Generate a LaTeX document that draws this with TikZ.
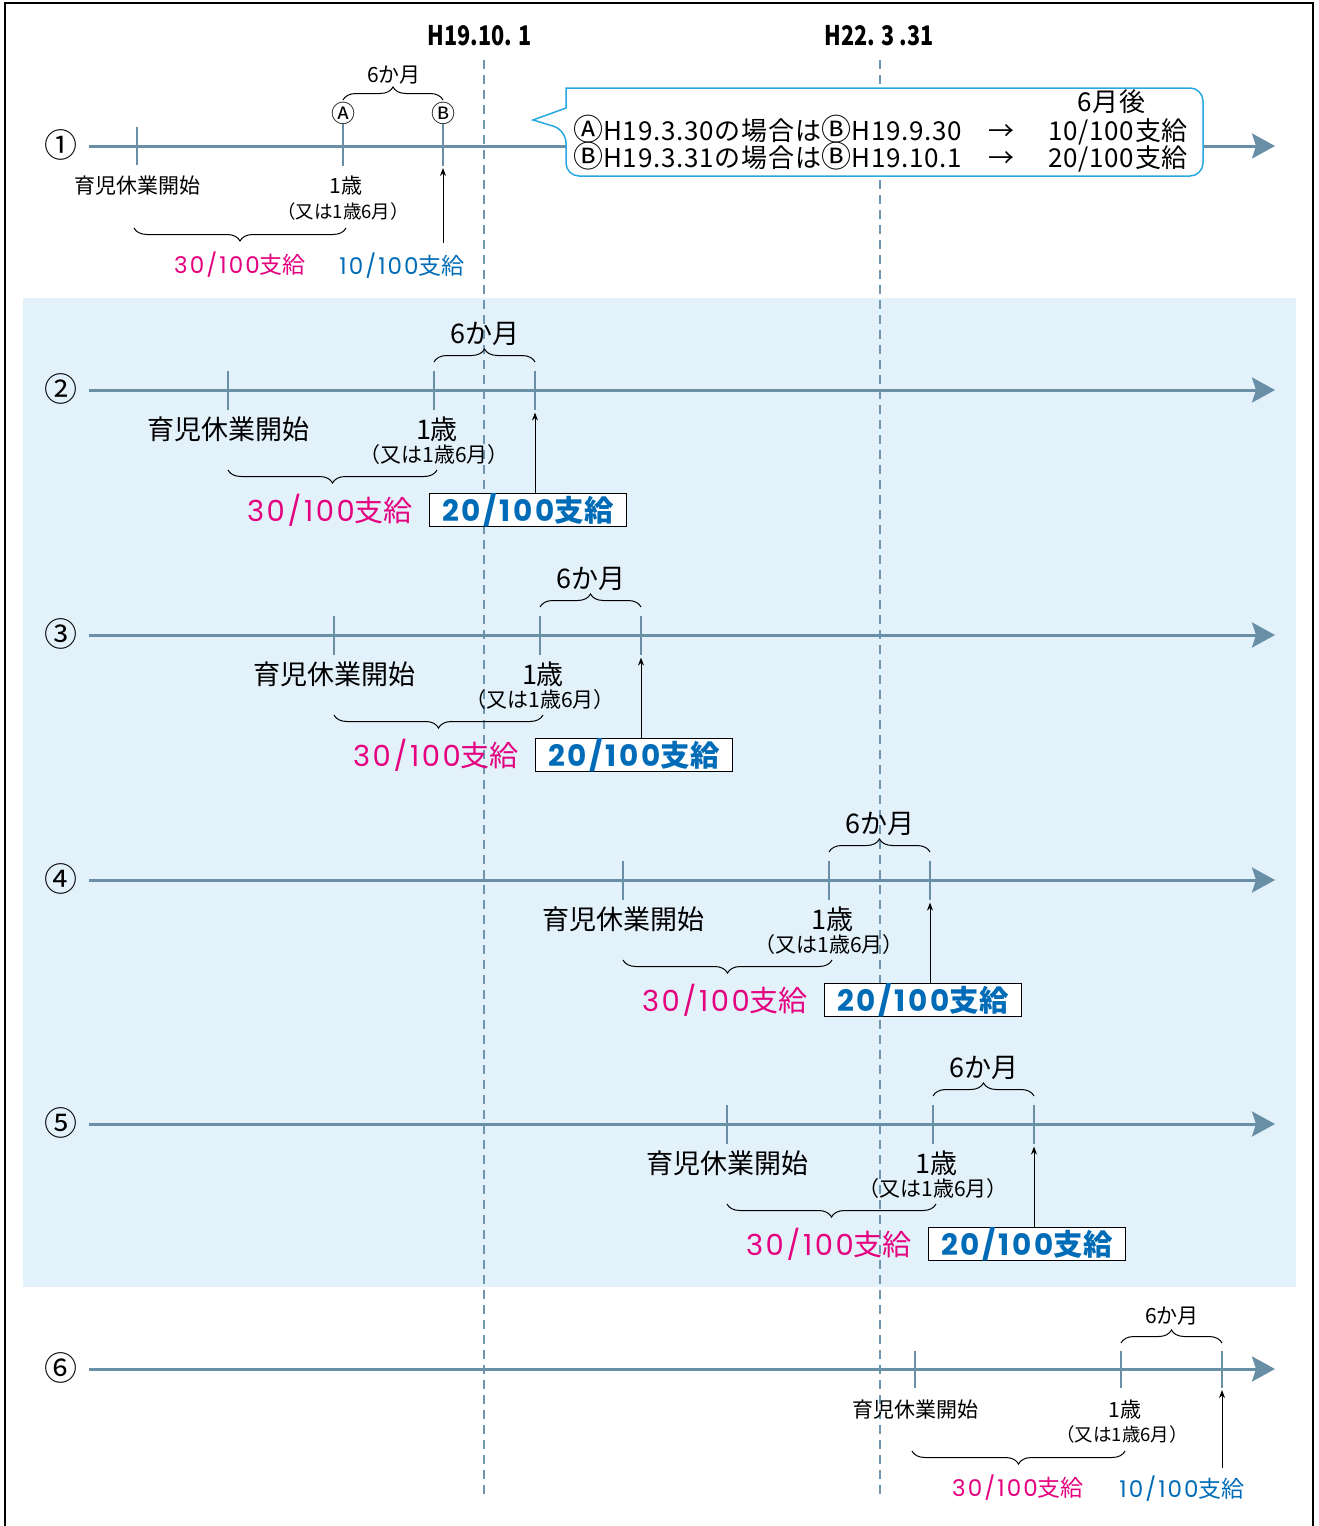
\documentclass[tikz,border=0pt]{standalone}
\usepackage{fontspec}
\setmainfont{Noto Sans CJK JP}
\newfontfamily\hdfont[FakeStretch=0.8]{Noto Sans CJK JP}
\newfontfamily\callfont[LetterSpace=3]{Noto Sans CJK JP}
\newfontfamily\numfont[LetterSpace=9]{Poppins}
\newcommand{\circA}{{\fontsize{24}{24}\selectfont Ⓐ}}
\newcommand{\circB}{{\fontsize{24}{24}\selectfont Ⓑ}}
\newcommand{\bigA}{{\fontsize{30}{30}\selectfont Ⓐ}}
\newcommand{\bigB}{{\fontsize{30}{30}\selectfont Ⓑ}}
\usetikzlibrary{arrows.meta,decorations.pathreplacing}
\definecolor{bandblue}{RGB}{227,241,251}
\definecolor{axisblue}{RGB}{104,143,165}
\definecolor{dashblue}{RGB}{112,150,175}
\definecolor{paypink}{RGB}{228,0,127}
\definecolor{payblue}{RGB}{0,108,183}
\definecolor{callblue}{RGB}{40,168,224}
\tikzstyle{axis} = [draw=axisblue, line width=3pt, -{Stealth[length=23pt,width=25pt,inset=4pt]}]
\tikzstyle{tick} = [draw=axisblue, line width=1.5pt]
\tikzstyle{dateline} = [draw=dashblue, line width=1.5pt, dash pattern=on 9pt off 6pt]
\tikzstyle{upline} = [draw=black, line width=1pt, -{Stealth[length=8pt,width=6pt]}]
\tikzstyle{bracetop} = [draw=black, line width=1pt, decorate, decoration={brace, amplitude=13pt}]
\tikzstyle{bracebot} = [draw=black, line width=1pt, decorate, decoration={brace, mirror, amplitude=13pt}]
\tikzstyle{rowno} = [inner sep=0pt, font=\fontsize{33}{35}\selectfont]
\tikzstyle{datelbl} = [inner sep=0pt, font=\hdfont\bfseries\fontsize{27}{30}\selectfont]
\tikzstyle{pointlbl} = [inner sep=0pt]
\tikzstyle{smalltxt} = [inner sep=0pt, font=\fontsize{21}{24}\selectfont]
\tikzstyle{smallsub} = [inner sep=0pt, font=\fontsize{18.5}{21}\selectfont]
\tikzstyle{smallpay} = [inner sep=0pt, font=\fontsize{23}{26}\selectfont]
\tikzstyle{bigtxt} = [inner sep=0pt, font=\fontsize{27}{30}\selectfont]
\tikzstyle{bigsub} = [inner sep=0pt, font=\fontsize{21}{24}\selectfont]
\tikzstyle{bigpay} = [inner sep=0pt, text=paypink, font=\fontsize{29}{32}\selectfont]
\tikzstyle{paybox} = [draw=black, fill=white, line width=1.3pt, minimum width=197pt, minimum height=33pt, inner sep=0pt, text=payblue, font=\bfseries\fontsize{29.5}{32}\selectfont]
\tikzstyle{calltxt} = [inner sep=0pt, font=\callfont\fontsize{26}{29}\selectfont]

\begin{document}
\begin{tikzpicture}[x=1pt, y=-1pt]
    \useasboundingbox (0,0) rectangle (1318,1526);
    \fill[bandblue] (23,298) rectangle (1296,1287);
    \draw[line width=1.3pt] (5,1526) -- (5,3) -- (1313,3) -- (1313,1526);

    % dates
    \node[datelbl] (h1) at (480,36) {H19.10. 1};
    \node[datelbl] (h2) at (879,36) {H22. 3 .31};
    \coordinate (d1top) at (484,60); \coordinate (d1bot) at (484,1495);
    \coordinate (d2top) at (880,60); \coordinate (d2bot) at (880,1495);
    \draw[dateline] (d1top) -- (d1bot);
    \draw[dateline] (d2top) -- (d2bot);

    % row 1
    \node[rowno] (no1) at (61,145) {①};
    \coordinate (o1) at (89,146); \coordinate (e1) at (1275,146);
    \coordinate (s1) at (137,146); \coordinate (a1) at (343,146); \coordinate (b1) at (443,146);
    \draw[axis] (o1) -- (e1);
    \draw[tick] (s1) ++(0,-19) -- ++(0,38);
    \draw[tick] (a1) ++(0,-22) -- ++(0,42);
    \draw[tick] (b1) ++(0,-22) -- ++(0,42);
    \node[pointlbl] (ptA) at (343,113) {\circA};
    \node[pointlbl] (ptB) at (443,113) {\circB};
    \draw[bracetop] (343,100) -- (443,100);
    \node[smalltxt] (six1) at (394,75) {6か月};
    \node[smalltxt] (start1) at (137,186) {育児休業開始};
    \node[smalltxt] (age1) at (346,186) {1歳};
    \node[smallsub] (alt1) at (343,211) {（又は1歳6月）};
    \draw[bracebot] (134,228) -- (346,228);
    \node[smallpay, text=paypink] (p30_1) at (240,265) {{\numfont 30/100}支給};
    \node[smallpay, text=payblue] (p10_1) at (402,266) {{\numfont 10/100}支給};
    \draw[upline, shorten <=10pt] (p10_1.north -| b1) -- ++(0,-85);

    % callout
    \draw[callblue, fill=white, line width=1.5pt] (533,120) -- (566,108) -- (566,88) [rounded corners=13pt] -- (1203,88) -- (1203,176) -- (566,176) -- (566,130) [sharp corners] -- cycle;
    \node[calltxt, anchor=base] (after6) at (1111,111) {6月後};
    \node[calltxt, anchor=base west] (caseA) at (573,140) {\bigA H19.3.30の場合は\bigB H19.9.30};
    \node[calltxt, anchor=base] (arrA) at (1001,140) {→};
    \node[calltxt, anchor=base east] (payA) at (1188,140) {10/100支給};
    \node[calltxt, anchor=base west] (caseB) at (573,167) {\bigB H19.3.31の場合は\bigB H19.10.1};
    \node[calltxt, anchor=base] (arrB) at (1001,167) {→};
    \node[calltxt, anchor=base east] (payB) at (1188,167) {20/100支給};

    % row 2
    \node[rowno] (no2) at (61,389) {②};
    \coordinate (o2) at (89,390); \coordinate (e2) at (1275,390);
    \coordinate (s2) at (228,390); \coordinate (a2) at (434,390); \coordinate (b2) at (535,390);
    \draw[axis] (o2) -- (e2);
    \draw[tick] (s2) ++(0,-19) -- ++(0,39);
    \draw[tick] (a2) ++(0,-19) -- ++(0,39);
    \draw[tick] (b2) ++(0,-19) -- ++(0,39);
    \draw[bracetop] (434,362) -- (535,362);
    \node[bigtxt] (six2) at (485,334) {6か月};
    \node[bigtxt] (start2) at (228,429) {育児休業開始};
    \node[bigtxt] (age2) at (437,429) {1歳};
    \node[bigsub] (alt2) at (434,455) {（又は1歳6月）};
    \draw[bracebot] (228,470) -- (437,470);
    \node[bigpay] (p30_2) at (330,510) {{\numfont 30/100}支給};
    \node[paybox] (p20_2) at (528,510) {{\numfont\bfseries 20/100}支給};
    \draw[upline] (p20_2.north -| b2) -- ++(0,-80);

    % row 3
    \node[rowno] (no3) at (61,634) {③};
    \begin{scope}[shift={(106,245)}]
    \coordinate (o3) at (-17,390); \coordinate (e3) at (1169,390);
    \coordinate (s3) at (228,390); \coordinate (a3) at (434,390); \coordinate (b3) at (535,390);
    \draw[axis] (o3) -- (e3);
    \draw[tick] (s3) ++(0,-19) -- ++(0,39);
    \draw[tick] (a3) ++(0,-19) -- ++(0,39);
    \draw[tick] (b3) ++(0,-19) -- ++(0,39);
    \draw[bracetop] (434,362) -- (535,362);
    \node[bigtxt] (six3) at (485,334) {6か月};
    \node[bigtxt] (start3) at (228,429) {育児休業開始};
    \node[bigtxt] (age3) at (437,429) {1歳};
    \node[bigsub] (alt3) at (434,455) {（又は1歳6月）};
    \draw[bracebot] (228,470) -- (437,470);
    \node[bigpay] (p30_3) at (330,510) {{\numfont 30/100}支給};
    \node[paybox] (p20_3) at (528,510) {{\numfont\bfseries 20/100}支給};
    \draw[upline] (p20_3.north -| b3) -- ++(0,-80);
    \end{scope}

    % row 4
    \node[rowno] (no4) at (61,879) {④};
    \begin{scope}[shift={(395,490)}]
    \coordinate (o4) at (-306,390); \coordinate (e4) at (880,390);
    \coordinate (s4) at (228,390); \coordinate (a4) at (434,390); \coordinate (b4) at (535,390);
    \draw[axis] (o4) -- (e4);
    \draw[tick] (s4) ++(0,-19) -- ++(0,39);
    \draw[tick] (a4) ++(0,-19) -- ++(0,39);
    \draw[tick] (b4) ++(0,-19) -- ++(0,39);
    \draw[bracetop] (434,362) -- (535,362);
    \node[bigtxt] (six4) at (485,334) {6か月};
    \node[bigtxt] (start4) at (228,429) {育児休業開始};
    \node[bigtxt] (age4) at (437,429) {1歳};
    \node[bigsub] (alt4) at (434,455) {（又は1歳6月）};
    \draw[bracebot] (228,470) -- (437,470);
    \node[bigpay] (p30_4) at (330,510) {{\numfont 30/100}支給};
    \node[paybox] (p20_4) at (528,510) {{\numfont\bfseries 20/100}支給};
    \draw[upline] (p20_4.north -| b4) -- ++(0,-80);
    \end{scope}

    % row 5
    \node[rowno] (no5) at (61,1123) {⑤};
    \begin{scope}[shift={(499,734)}]
    \coordinate (o5) at (-410,390); \coordinate (e5) at (776,390);
    \coordinate (s5) at (228,390); \coordinate (a5) at (434,390); \coordinate (b5) at (535,390);
    \draw[axis] (o5) -- (e5);
    \draw[tick] (s5) ++(0,-19) -- ++(0,39);
    \draw[tick] (a5) ++(0,-19) -- ++(0,39);
    \draw[tick] (b5) ++(0,-19) -- ++(0,39);
    \draw[bracetop] (434,362) -- (535,362);
    \node[bigtxt] (six5) at (485,334) {6か月};
    \node[bigtxt] (start5) at (228,429) {育児休業開始};
    \node[bigtxt] (age5) at (437,429) {1歳};
    \node[bigsub] (alt5) at (434,455) {（又は1歳6月）};
    \draw[bracebot] (228,470) -- (437,470);
    \node[bigpay] (p30_5) at (330,510) {{\numfont 30/100}支給};
    \node[paybox] (p20_5) at (528,510) {{\numfont\bfseries 20/100}支給};
    \draw[upline] (p20_5.north -| b5) -- ++(0,-80);
    \end{scope}

    % row 6
    \node[rowno] (no6) at (61,1368) {⑥};
    \coordinate (o6) at (89,1369); \coordinate (e6) at (1275,1369);
    \coordinate (s6) at (915,1369); \coordinate (a6) at (1121,1369); \coordinate (b6) at (1222,1369);
    \draw[axis] (o6) -- (e6);
    \draw[tick] (s6) ++(0,-18) -- ++(0,37);
    \draw[tick] (a6) ++(0,-18) -- ++(0,37);
    \draw[tick] (b6) ++(0,-18) -- ++(0,37);
    \draw[bracetop] (1121,1343) -- (1222,1343);
    \node[smalltxt] (six6) at (1172,1316) {6か月};
    \node[smalltxt] (start6) at (915,1410) {育児休業開始};
    \node[smalltxt] (age6) at (1125,1410) {1歳};
    \node[smallsub] (alt6) at (1122,1434) {（又は1歳6月）};
    \draw[bracebot] (912,1451) -- (1125,1451);
    \node[smallpay, text=paypink] (p30_6) at (1018,1488) {{\numfont 30/100}支給};
    \node[smallpay, text=payblue] (p10_6) at (1182,1489) {{\numfont 10/100}支給};
    \draw[upline, shorten <=8pt] (p10_6.north -| b6) -- ++(0,-86);
\end{tikzpicture}
\end{document}
